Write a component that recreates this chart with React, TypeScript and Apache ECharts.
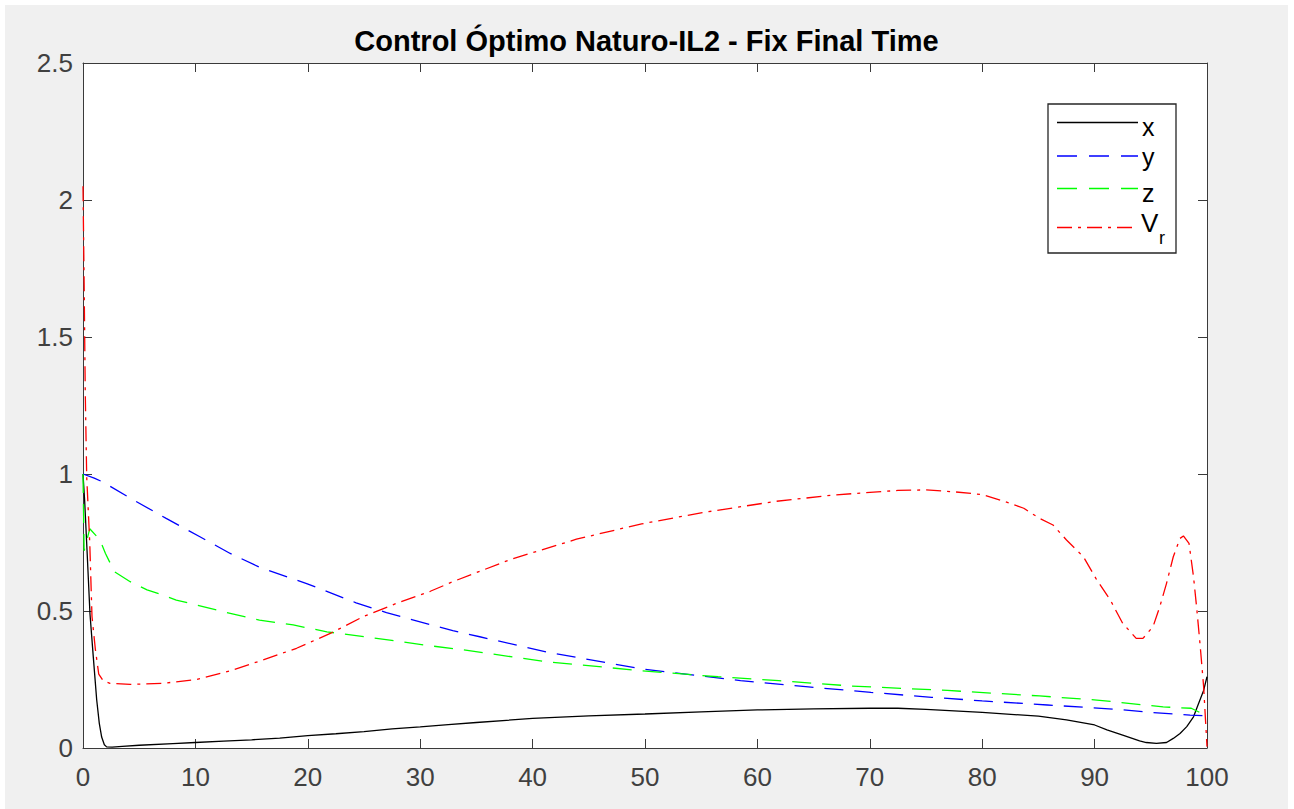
import React, { useEffect, useRef } from "react";
import * as echarts from "echarts";

const titleText = "Control Óptimo Naturo-IL2 - Fix Final Time";

const xTicks = { min: 0, max: 100, interval: 10 };
const yTicks = { min: 0, max: 2.5, interval: 0.5 };

// series x (black, solid)
const tX = [0, 0.15, 0.36, 0.62, 0.92, 1.22, 1.45, 1.66, 1.9, 2.1, 2.6, 3.5, 5, 8, 10, 12.5, 15, 17.5, 20, 22.5, 25, 27.5, 30, 32.5, 35, 40, 45, 50, 55, 60, 65, 70, 72.5, 75, 80, 85, 87.5, 90, 91.1, 92.5, 94, 94.6, 95.5, 96.4, 97, 97.6, 98.2, 98.8, 99.2, 99.7, 100];
const vX = [1.0, 0.9, 0.72, 0.49, 0.33, 0.175, 0.09, 0.04, 0.012, 0.004, 0.003, 0.006, 0.01, 0.016, 0.02, 0.025, 0.03, 0.036, 0.045, 0.052, 0.06, 0.07, 0.077, 0.085, 0.093, 0.108, 0.117, 0.124, 0.132, 0.139, 0.143, 0.145, 0.145, 0.141, 0.13, 0.116, 0.103, 0.084, 0.066, 0.047, 0.026, 0.02, 0.017, 0.02, 0.035, 0.053, 0.078, 0.114, 0.157, 0.21, 0.26];

// series y (blue, dashed)
const tY = [0, 1, 1.8, 4.5, 7.4, 10.4, 13.1, 15.7, 19.9, 24.3, 27, 32.9, 35.3, 41.5, 50, 58.5, 64.3, 70.1, 75.5, 80, 85.8, 92, 95.2, 98.5, 100];
const vY = [1.0, 0.985, 0.97, 0.905, 0.838, 0.771, 0.71, 0.66, 0.6, 0.53, 0.494, 0.428, 0.406, 0.348, 0.287, 0.246, 0.224, 0.203, 0.185, 0.172, 0.157, 0.141, 0.129, 0.12, 0.117];

// series z (green, dashed)
const tZ = [0, 0.1, 0.6, 1.5, 2, 2.8, 4.2, 5.7, 7.1, 8.3, 10.1, 12.8, 15.7, 18.7, 21.7, 24.3, 27.3, 30.3, 33.5, 41.2, 49.7, 56.5, 61.9, 68.4, 76.9, 85.1, 90.2, 96.1, 98.6, 100];
const vZ = [1.0, 0.72, 0.8, 0.76, 0.71, 0.643, 0.607, 0.577, 0.558, 0.54, 0.522, 0.494, 0.467, 0.449, 0.424, 0.41, 0.394, 0.376, 0.36, 0.315, 0.282, 0.26, 0.246, 0.226, 0.21, 0.19, 0.175, 0.15, 0.145, 0.117];

// series V_r (red, dash-dot)
const tV = [0, 0.1, 0.2, 0.33, 0.6, 0.8, 1.1, 1.4, 1.8, 2.4, 4.2, 7.1, 10.1, 13.1, 16, 19, 22, 24.9, 27.9, 30.9, 32.9, 38.1, 43.9, 49.7, 55.1, 61.6, 66.7, 72.5, 75, 77.5, 80, 82, 83.7, 85.1, 86.3, 87.5, 89, 90.2, 91.4, 92.5, 93.7, 94.3, 95.2, 95.8, 96.4, 97, 97.6, 97.9, 98.4, 98.8, 99.1, 99.4, 99.7, 100];
const vV = [2.05, 1.7, 1.3, 0.99, 0.75, 0.48, 0.36, 0.27, 0.245, 0.236, 0.232, 0.236, 0.25, 0.282, 0.321, 0.364, 0.418, 0.479, 0.528, 0.572, 0.607, 0.689, 0.762, 0.818, 0.859, 0.9, 0.923, 0.94, 0.942, 0.935, 0.925, 0.9, 0.875, 0.838, 0.814, 0.759, 0.698, 0.613, 0.54, 0.455, 0.4, 0.4, 0.443, 0.516, 0.601, 0.698, 0.765, 0.774, 0.747, 0.625, 0.504, 0.37, 0.224, 0.005];

const seriesNames = ["x", "y", "z", "V_r"];
const seriesColors = ["#000000", "#0000ff", "#00ff00", "#ff0000"];

const pairs = (t: number[], v: number[]) => t.map((ti, i) => [ti, v[i]]);

const FONT = "'Liberation Sans', Arial, Helvetica, sans-serif";
const AXIS_COLOR = "#3a3a3a";
const LABEL_COLOR = "#404040";

export default function App() {
  const ref = useRef<HTMLDivElement>(null);

  useEffect(() => {
    document.body.style.margin = "0";
    if (!ref.current) return;
    const chart = echarts.init(ref.current, undefined, { renderer: "svg" });

    const dashes: any[] = ["solid", [19, 11], [19, 11], [15, 6, 3, 6]];
    const datasets = [pairs(tX, vX), pairs(tY, vY), pairs(tZ, vZ), pairs(tV, vV)];

    const axisCommon = {
      type: "value" as const,
      axisLine: { show: true, onZero: false, lineStyle: { color: AXIS_COLOR, width: 1 } },
      axisTick: { show: true, inside: true, length: 9, lineStyle: { color: AXIS_COLOR, width: 1 } },
      splitLine: { show: false },
    };

    // legend geometry (chart coords)
    const lgX0 = 1043, lgY0 = 99, lgW = 128, lgH = 149;
    const lineX1 = 1052, lineX2 = 1133;
    const rowY = [117.5, 151, 183.5, 222.5];
    const textY = [122, 152, 188, 217.5];

    const legendGraphics: any[] = [
      {
        type: "rect",
        shape: { x: lgX0, y: lgY0, width: lgW, height: lgH },
        style: { fill: "#ffffff", stroke: "#262626", lineWidth: 1.3 },
        z: 100,
      },
    ];
    seriesNames.forEach((name, i) => {
      legendGraphics.push({
        type: "line",
        shape: { x1: lineX1, y1: rowY[i], x2: lineX2, y2: rowY[i] },
        style: {
          stroke: seriesColors[i],
          lineWidth: 1.3,
          lineDash: i === 0 ? null : i === 3 ? [15, 6, 3, 6] : [20, 12],
        },
        z: 101,
      });
    });
    ["x", "y", "z"].forEach((label, i) => {
      legendGraphics.push({
        type: "text",
        x: 1137,
        y: textY[i],
        style: { text: label, fontSize: 25, fontFamily: FONT, fill: "#000", verticalAlign: "middle", align: "left" },
        z: 102,
      });
    });
    legendGraphics.push({
      type: "text",
      x: 1136,
      y: textY[3],
      style: { text: "V", fontSize: 26, fontFamily: FONT, fill: "#000", verticalAlign: "middle", align: "left" },
      z: 102,
    });
    legendGraphics.push({
      type: "text",
      x: 1154,
      y: 233,
      style: { text: "r", fontSize: 18, fontFamily: FONT, fill: "#000", verticalAlign: "middle", align: "left" },
      z: 102,
    });

    chart.setOption({
      animation: false,
      backgroundColor: "#f0f0f0",
      title: {
        text: titleText,
        left: "center",
        top: 16,
        textStyle: { fontSize: 29, fontWeight: "bold", color: "#000", fontFamily: FONT },
      },
      grid: {
        left: 78,
        right: 81,
        top: 58,
        bottom: 61,
        show: true,
        backgroundColor: "#ffffff",
        borderWidth: 0,
        containLabel: false,
      },
      xAxis: [
        {
          ...axisCommon,
          position: "bottom",
          min: xTicks.min,
          max: xTicks.max,
          interval: xTicks.interval,
          axisLabel: { show: true, fontSize: 26, color: LABEL_COLOR, margin: 16, fontFamily: FONT },
        },
        {
          ...axisCommon,
          position: "top",
          min: xTicks.min,
          max: xTicks.max,
          interval: xTicks.interval,
          axisLabel: { show: false },
        },
      ],
      yAxis: [
        {
          ...axisCommon,
          position: "left",
          min: yTicks.min,
          max: yTicks.max,
          interval: yTicks.interval,
          axisLabel: { show: true, fontSize: 26, color: LABEL_COLOR, margin: 10, fontFamily: FONT },
        },
        {
          ...axisCommon,
          position: "right",
          min: yTicks.min,
          max: yTicks.max,
          interval: yTicks.interval,
          axisLabel: { show: false },
        },
      ],
      series: seriesNames.map((name, i) => ({
        name,
        type: "line",
        xAxisIndex: 0,
        yAxisIndex: 0,
        data: datasets[i],
        showSymbol: false,
        symbol: "none",
        smooth: false,
        lineStyle: { color: seriesColors[i], width: 1.3, type: dashes[i] },
        itemStyle: { color: seriesColors[i] },
        z: 2 + i,
      })),
      graphic: legendGraphics,
    });

    return () => chart.dispose();
  }, []);

  return (
    <div style={{ position: "relative", width: 1294, height: 809, background: "#ffffff", overflow: "hidden" }}>
      <div ref={ref} style={{ position: "absolute", left: 5, top: 5, width: 1283, height: 804 }} />
    </div>
  );
}
